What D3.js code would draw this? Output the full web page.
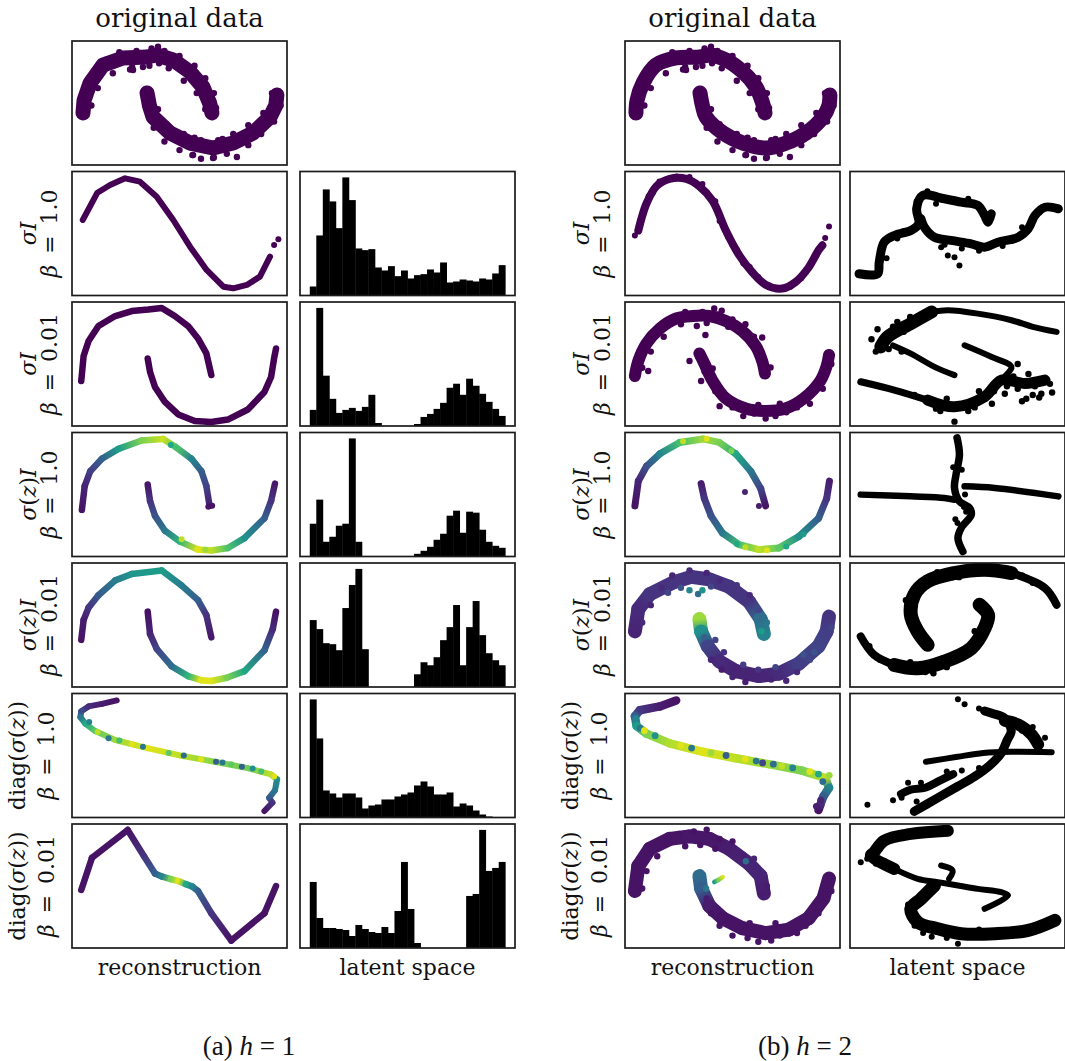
<!DOCTYPE html>
<meta charset="utf-8">
<script src="https://d3js.org/d3.v7.min.js"></script>
<style>body{margin:0;background:#fff}</style>
<svg id="fig" width="1065" height="1061"></svg>
<script>

// ---------------- data (panel units: x 0..100 left->right, y 0..100 bottom->top) ----------------

// two moons, original data (same set in both halves)
const origUpper = [[5.1,41.9],[5.6,52],[8.4,66.1],[14.4,80.6],[23.7,86.3],[34.9,87.1],[39.5,88.7],[47,84.7],[54.9,75],[60.9,62.9],[64,50],[65.1,42]];
const origLower = [[34.9,58.1],[36,48],[37.7,38.7],[45.6,25.8],[54.9,17.7],[65.6,13.7],[74.9,17.7],[84.2,25.8],[92.1,38.7],[94.8,48],[95.3,56.5]];
const origDots = [[7,58],[10,72],[16,85],[22,91],[30,92],[37,94],[40,95.5],[43,92],[50,88],[57,80],[62,70],[66,58],[67,46],
  [9,48],[12,62],[19,74],[28,79],[36,80],[45,78],[52,68],[58,58],[62,45],[27,77],[33,79],[40.5,82],[16.3,84.7],[28.4,76.6],
  [38,30],[43,19],[50,12],[56,8],[60,5],[66,6],[72,9],[76.7,6.5],[82,16],[88,25],[94,35],[97,48],
  [40,45],[44,33],[52,25],[60,20],[68,20],[75,25],[82,32],[89,42],[93,58],[48,26],[57,22],[70,21],[48.8,20.2],[65.6,5.6],[56.3,8.1]];

// (a) h = 1, reconstructions
const recA1 = [[5.0,60.9],[11.8,82.9],[17.7,89.1],[24.7,94.5],[31.6,91.8],[39.4,79.7],[47.1,60.9],[54.9,39.4],[62.6,20.6],[70.4,7.1],[75.0,5.8],[81.3,8.5],[87.4,15.2],[92.1,31.3]];
const recA1Dots = [[94.0,40.7],[96.0,45.3]];
const recA2Upper = [[4.3,36.3],[5.4,56.5],[7.7,68.5],[12.3,80.6],[20.1,88.7],[27.8,92.7],[35.5,93.9],[41.7,95.2],[47.8,88.7],[54,80.6],[58.6,70.6],[62.5,58.5],[64.8,41.1]];
const recA2Lower = [[35.2,54.4],[36.3,43.5],[38.6,31.5],[43.2,19.4],[49.4,9.3],[57.1,4.0],[64.8,3.2],[72.5,5.2],[81.8,13.3],[89.5,27.4],[92.6,39.5],[94.1,55.6],[94.9,62.5]];
const recA3Upper = [[4.6,37.6,0.05],[5.9,56.8,0.1],[8.5,68.8,0.18],[13.9,78.8,0.3],[21.6,86.8,0.55],[32.4,93.6,0.8],[42.4,94.8,0.92],[47.8,88.8,0.75],[55.6,78.8,0.45],[60.2,68.8,0.3],[62.5,56.8,0.2],[64.0,40.8,0.08]];
const recA3Lower = [[35.2,58,0.06],[36.3,44.8,0.15],[38.6,32.8,0.25],[43.2,20.8,0.4],[50.2,12,0.65],[58.6,5.6,0.95],[64.8,4.8,0.9],[72.5,6.8,0.72],[80.2,14.8,0.5],[89.5,30.8,0.3],[92.6,44.8,0.15],[94.4,58.8,0.06]];
const recA3Dots = [[63.4,40.2,0.05],[65.2,41,0.05],[46,90,0.6],[48.5,88,0.7],[51,14,0.9],[62,5.5,0.85]];
const recA4Upper = [[4.3,38,0.05],[5.4,54,0.08],[7.7,64,0.15],[12.3,74,0.28],[20.1,86,0.42],[27.8,91.2,0.52],[41.7,94,0.55],[50.9,82,0.42],[58.6,70,0.3],[62.5,58,0.15],[64.8,40,0.06]];
const recA4Lower = [[35.2,60.8,0.04],[36.3,42.8,0.1],[39.4,30.8,0.2],[46.3,16.8,0.35],[54,8.8,0.65],[60,5.5,0.95],[64.8,4.8,0.95],[72,7.5,0.8],[80.2,12.8,0.6],[89.5,29.6,0.32],[93.4,46.8,0.12],[94.9,60.8,0.04]];
const recA5 = [[20.8,94.4,0.05],[13.9,91.6,0.08],[7.7,89.6,0.12],[4.3,85.7,0.22],[3.9,80.9,0.38],[6.2,75.7,0.6],[10.8,69.7,0.75],[20.1,62.5,0.85],[35.5,55.8,0.95],[50.9,49.8,0.9],[66.4,45,0.82],[81.8,39.8,0.78],[92.6,34.7,0.9],[95.4,30.7,0.5],[94.4,21.9,0.4],[91.7,15.9,0.3],[93.2,12,0.15],[89.5,5.2,0.05]];
const recA5Dots = [[8,77,0.45],[12,69,0.9],[17,64,0.4],[22,62,0.7],[28,59,0.95],[33,57,0.4],[45,52,0.75],[52,50,0.35],[60,47,0.95],[67,45,0.3],[70,44.3,0.4],[74,43,0.75],[79,41,0.3],[84,39.5,0.5],[88,37,0.7],[94,33,0.95],[95,27,0.45]];
const recA6 = [[4.3,46.8,0.05],[9.3,72.8,0.05],[25.9,95.2,0.05],[33.5,74,0.15],[38.6,60,0.3],[42,57.5,0.45],[46,55.5,0.8],[49.5,54,0.95],[53,51.5,0.6],[56,49.5,0.45],[58.6,46,0.3],[64.8,28,0.15],[74.1,6,0.05],[89.5,28,0.05],[94.9,50,0.05]];

// (a) h = 1, latent histograms (30 bins, counts)
const histSigmaI_b1   = [27,180,318,282,202,354,286,141,136,139,84,75,88,58,75,51,61,64,78,69,99,39,42,48,45,42,51,48,66,91];
const histSigmaI_b001 = [48,352,150,81,39,48,54,45,57,93,9,0,0,0,0,0,6,27,36,51,69,114,126,93,141,120,96,72,51,30];
const histSigmaZ_b1   = [98,170,44,59,92,98,353,44,0,0,0,0,0,0,0,0,8,17,29,50,68,122,137,71,134,131,80,44,32,26];
const histSigmaZ_b001 = [200,173,131,128,110,236,305,353,113,0,0,0,0,0,0,0,38,74,65,89,140,179,245,65,179,257,155,101,80,65];
const histDiag_b1     = [354,237,81,72,60,72,72,60,27,36,39,54,54,63,69,75,96,108,93,69,69,75,33,42,36,21,9,3,0,0];
const histDiag_b001   = [198,90,60,60,57,54,36,69,57,48,45,63,45,111,258,117,15,0,0,0,0,0,0,0,156,162,354,231,240,258];

// (b) h = 2, reconstructions
const recB1 = [[6.2,52.4],[7.7,62.3],[10,74.2],[14.6,88.1],[20.8,94],[28.5,94],[34.6,88.1],[40.8,76.2],[46.9,52.4],[53.1,32.5],[59.2,18.7],[65.4,8.7],[73.1,5.6],[79.2,10.7],[85.4,22.6],[90,36.5],[91.8,40.5]];
const recB1Dots = [[4.6,48.4],[6,53],[7.5,60],[8.5,66],[9,70],[11,80],[13,83],[16,92],[24,96],[30,95.5],[36,90],[38,83],[42,76],[44,60],[48,47],[50,41],[52,37],[55,26],[58,23],[62,15],[67,8],[77,7],[82,14],[84,19],[87,27],[89,32],[93.1,46.4],[94.9,55.6]];
const recB2Upper = [[4.6,40.3],[6.2,52.4],[10,66.5],[16.2,78.6],[23.8,86.7],[31.5,88.7],[39.2,88.7],[46.9,84.7],[54.6,76.6],[60.8,64.5],[63.8,52.4],[65.1,42.3]];
const recB2Lower = [[34.6,58.5],[36.9,50.4],[40.8,36.3],[46.9,22.2],[56.2,14.1],[65.4,12.1],[74.6,14.1],[83.1,22.2],[90.8,36.3],[93.8,48.4],[94.9,57.3]];
const recB2Dots = [[41.5,94.8],[30,52.4],[35.4,36.3],[40.8,46.4],[63.8,71.4],[67.7,47.2],[10.8,44.4],[65.4,6],[33.4,80.6],[37.4,73.4],[43.1,90],[8,47],[12,60],[18,72],[26,82],[28,92],[36,92],[45,93],[50,86],[56,82],[60,72],[48,80],[38,83],[55,8],[60,10],[70,8],[75,11],[80,15],[86,18],[85,25],[72,18],[62,17],[50,15],[44,16],[42,28],[92,30],[96,50],[37,44],[34,56]];
const recB3Upper = [[4.6,40.8,0.05],[6.2,60.8,0.1],[10,72.8,0.25],[16.2,82.8,0.45],[25.4,92,0.7],[36.2,94.8,0.85],[43.8,92,0.8],[51.5,82.8,0.6],[58.5,68.8,0.4],[63.1,54.8,0.2],[65.4,40.8,0.05]];
const recB3Lower = [[35.4,58.8,0.08],[36.9,46.8,0.15],[40,32.8,0.25],[45.4,18.8,0.4],[53.1,9.6,0.7],[62.3,5.6,0.9],[71.5,6.8,0.75],[80.8,16,0.5],[90,30.8,0.3],[93.8,46.8,0.15],[95.1,60.8,0.08]];
const recB3Dots = [[55.8,52,0.1],[62.3,40.8,0.08],[49.5,85,0.8],[27,93,0.9],[38,95,0.95],[52,10,0.6],[56,7.5,0.9],[66,5,0.95],[75,8,0.6],[83,18,0.55]];
const recB4Upper = [[4.6,44.8,0.1],[6.2,62.8,0.12],[11.5,74.8,0.15],[23.1,84.8,0.15],[30.8,88.8,0.15],[39.2,86.8,0.15],[48.5,80.8,0.15],[57.7,68.8,0.15],[63.1,54.8,0.35],[64.6,42.8,0.45]];
const recB4Lower = [[34.6,54.8,0.85],[35.4,44.8,0.5],[38.5,32.8,0.2],[43.8,20.8,0.12],[51.5,12.8,0.1],[62.3,8.8,0.1],[71.5,10.8,0.12],[80.8,18.8,0.18],[90,32.8,0.2],[93.8,44.8,0.18],[94.9,56.8,0.15]];
const recB4Dots = [[8,52,0.12],[12,66,0.1],[17,80,0.12],[22,90,0.1],[30,94,0.12],[38,92,0.1],[44,86,0.12],[52,82,0.15],[58,74,0.12],[62,62,0.2],[66,52,0.4],[63.5,45,0.55],[30,78,0.45],[34,75,0.35],[36,78,0.5],[40,81,0.2],[20,76,0.2],[26,80,0.25],[40,22,0.1],[45,14,0.08],[50,8,0.1],[56,4,0.08],[62,14,0.15],[68,6,0.1],[75,5,0.1],[80,12,0.12],[86,22,0.2],[88,28,0.25],[96,48,0.2],[46,28,0.15],[55,18,0.18],[70,16,0.2],[83,26,0.25],[42,38,0.2],[37,40,0.3]];
const recB5 = [[23.8,94.4,0.05],[16.2,89.6,0.08],[6.9,86.5,0.15],[4.6,81.7,0.3],[5.4,73.7,0.55],[10,67.7,0.8],[20.8,59.8,0.88],[36.2,53,0.95],[51.5,47.8,0.9],[66.9,43,0.85],[82.3,37.8,0.8],[93.1,31.9,0.9],[94.9,23.9,0.45],[92.3,17.1,0.3],[90.8,10,0.12],[90,6,0.05]];
const recB5Dots = [[5,80,0.45],[7,72,0.4],[9,70,0.95],[14,66,0.5],[26,58,0.95],[31,56,0.4],[40,52,0.85],[47,50,0.3],[56,47,0.95],[61,45.5,0.4],[64,44,0.2],[69,43,0.35],[73,41.5,0.9],[78,40,0.45],[86,37,0.95],[90,35,0.6],[92,29,0.35],[91,14,0.1],[89,9,0.08],[95,34,0.85]];
const recB6Upper = [[4.6,46,0.05],[6.2,66,0.05],[11.5,80,0.05],[20.8,88,0.05],[30,90,0.06],[39.2,88,0.06],[48.5,80,0.08],[57.7,68,0.1],[63.1,58,0.1],[64.6,44,0.08]];
const recB6Lower = [[34.6,58,0.35],[35.4,48,0.3],[39.2,34,0.08],[45.4,24,0.05],[54.6,16,0.05],[65.4,12,0.05],[76.2,14.8,0.05],[85.4,24,0.05],[92.3,40,0.05],[94.9,56,0.05]];
const recB6Tail = [[41.5,53.2,0.55],[43.5,55,0.8],[45.4,57.2,0.95]];
const recB6Dots = [[56.2,70,0.35],[37.7,48,0.4],[8,48,0.05],[10,62,0.05],[15,74,0.05],[18,84,0.05],[25,92,0.05],[32,94,0.05],[38,95.5,0.05],[44,88,0.05],[50,86,0.05],[55,75,0.08],[60,72,0.1],[62,64,0.1],[66,50,0.08],[28,82,0.05],[35,83,0.05],[42,80,0.05],[40,28,0.05],[44,18,0.05],[50,10,0.05],[57,8,0.05],[62,5,0.05],[68,6,0.05],[72,10,0.05],[80,12,0.05],[84,18,0.05],[90,28,0.05],[96,46,0.05],[48,22,0.05],[58,20,0.05],[70,20,0.05],[80,20,0.05],[38,40,0.08]];

// (b) h = 2, latent space
const latB1a = [[4.2,17.5],[12.8,17.5],[13.6,26.9],[15.9,43],[20.6,48.4],[28.3,52.4],[32,58],[31,70],[33.8,80.6],[43.9,78],[51.7,75.3],[59.5,72.6],[62.6,64.5],[64.2,59.1],[65.7,65.9]];
const latB1b = [[33,62],[34.6,55.1],[39.3,47],[47,44.4],[56.4,41.7],[62.6,39],[68.8,43],[78.2,47],[82.9,53.8],[86,64.5],[90.7,71.2],[96.9,69.9]];
const latB1Dots = [[50.9,24.2],[45.5,32.3],[48.6,30.9],[42.4,39],[14,35],[17,30],[22,46],[25,52],[31,76],[36,84],[40,74],[55,78],[44,41],[52,38],[60,36],[71,40],[75,44],[80,55],[88,67]];
const latB2a = [[96.1,75.9],[85,80],[75.1,85.3],[59.5,90.6],[45.5,93.3],[38,92]];
const latB2blob1 = [[38,92],[28.3,82.6],[17.4,71.8],[14.3,63.8]];
const latB2b = [[20,65],[28.3,58.4],[39.3,47.7],[48.6,41]];
const latB2c = [[5,35.7],[20.6,29],[36.1,20.9]];
const latB2blob2 = [[36.1,20.9],[48.6,15.5],[62.6,23.6],[70.4,37],[81.3,34.3],[90.7,37]];
const latB2d = [[53.3,65.1],[65.7,55.8],[75.1,47.7],[72,40]];
const latB2Dots = [[12.8,78],[28,88],[12,60],[24,60],[85,25],[88,23],[82,22],[48.6,3.5],[89,26],[78,30],[67,28],[58,15],[42,12],[30,25],[20,80],[25,76],[15,67],[78,50],[83,42],[73,32],
  [10,70],[22,84],[33,88],[18,62],[40,14],[45,22],[55,12],[60,28],[66,18],[72,26],[76,40],[86,32],[93,34],[94,27],[80,20]];
const latB3h1 = [[5,49.9],[28.3,48.5],[43.9,47.2],[48.6,45.8]];
const latB3h2 = [[53.3,56.6],[67.3,55.3],[96.9,48.5]];
const latB3v = [[49.8,95.7],[50.9,82.2],[49.3,66],[48.6,55.3],[50.9,44.5],[55.6,39.1],[56.4,33.7],[51.7,22.9],[50.2,14.8],[52.5,4]];
const latB3Dots = [[48,72],[52,70],[53,40],[54,36],[49,30],[50,27],[53.5,50]];
const latB4upperTip = [[96.1,66.3],[90.7,79.8],[75.1,91.9]];
const latB4upper = [[75.1,91.9],[62.6,94.6],[48.6,91.9],[36.1,85.2],[29.9,74.4],[28.3,58.2],[31.5,44.7],[36.1,34]];
const latB4lowerTip = [[5,40.7],[11.2,25.9],[20.6,17.8]];
const latB4lower = [[20.6,17.8],[31.5,15.1],[43.9,20.5],[56.4,31.3],[62.6,47.4],[64.2,58.2],[60.3,66.3]];
const latB4Dots = [[40.6,92.5],[47.6,88.6],[50.7,88.6],[34,80],[27,65],[26,70],[30,50],[28,20],[35,12],[38.8,11],[45,16],[50,22],[55,27],[60,38],[58,45],[65,50],[85,84],[80,90],[9,33],[14,22]];
const latB5a = [[35.3,44.9],[50,49],[62,52],[75,53],[93.8,52.7]];
const latB5b = [[29.9,4.9],[40,15],[50,25],[58,33],[65,42],[70.4,52],[73,62],[75,70],[72,80],[66,84],[62.6,85.9]];
const latB5c = [[72,78],[78.2,75.1],[84.4,67],[87.5,58.9]];
const latB5d = [[23.7,18.9],[28.3,22.4],[35,24],[42,30],[48,35]];
const latB5Dots = [[8.1,10.3],[50.2,95.4],[53.3,91.4],[60,88],[63,86],[90.7,64.3],[24,16],[31,13],[36,10],[45,37],[52,38],[55,30],[60,40],[68,47],[80,70],[85,73],[20,14],[27,28],[33,28]];
const latB6top = [[45.5,94.6],[28.3,92],[15.9,86.6],[11.2,77.2],[9.7,74.5],[20.6,63.8]];
const latB6band = [[20.6,63.8],[31.5,55.8],[40.8,53.1],[50.2,50.4],[59.5,47.7],[70.4,45],[73.5,42.4],[62.6,31.6]];
const latB6hook = [[42.4,66.5],[47.7,62.5],[46.1,55.8]];
const latB6lower = [[39.3,50.4],[33,39.7],[28.3,31.6],[31.5,20.9],[40.8,15.5],[51.7,11.5],[67.3,11.5],[82.9,14.2],[95.3,22.3]];
const latB6Dots = [[5,69.2],[8,72],[12,68],[16,70],[14,80],[20,88],[13,84],[50.2,3.5],[30,18],[34,12],[38,9],[45,8],[55,9],[60,15],[29,26],[27,35]];

// text
const rowLine1 = ["σI", "σI", "σ(z)I", "σ(z)I", "diag(σ(z))", "diag(σ(z))"];
const rowLine2 = ["β = 1.0", "β = 0.01", "β = 1.0", "β = 0.01", "β = 1.0", "β = 0.01"];
const captions = [["(a) ", "h", " = 1"], ["(b) ", "h", " = 2"]];

// ---------------- layout ----------------
const svg = d3.select("#fig");
const W = 215, H = 124;
const colX = {aRec: 72, aLat: 300, bRec: 625, bLat: 850};
const rowY = [41, 171.5, 302, 432.5, 563, 693.5, 824];
const purple = d3.interpolateViridis(0);
const serif = "DejaVu Serif";

const xs = d3.scaleLinear().domain([0, 100]).range([0, W]);
const ys = d3.scaleLinear().domain([0, 100]).range([H, 0]);

let uid = 0;
function panel(x0, y0) {
  const id = "clip" + (uid++);
  const g = svg.append("g").attr("transform", `translate(${x0},${y0})`);
  g.append("clipPath").attr("id", id).append("rect").attr("width", W).attr("height", H);
  const inner = g.append("g").attr("clip-path", `url(#${id})`);
  return {g, inner};
}
function frame(g) {
  g.append("rect").attr("width", W).attr("height", H)
    .attr("fill", "none").attr("stroke", "#1b1b1b").attr("stroke-width", 1.7);
}

function drawPath(sel, pts, w, color, smooth) {
  if (pts[0].length > 2) {
    // colour varies along the curve: one gradient segment per pair of points
    const defs = sel.append("defs");
    for (let i = 0; i < pts.length - 1; i++) {
      const a = pts[i], b = pts[i + 1], id = "gr" + (uid++);
      const lg = defs.append("linearGradient").attr("id", id).attr("gradientUnits", "userSpaceOnUse")
        .attr("x1", xs(a[0])).attr("y1", ys(a[1])).attr("x2", xs(b[0])).attr("y2", ys(b[1]));
      lg.append("stop").attr("offset", 0).attr("stop-color", d3.interpolateViridis(a[2]));
      lg.append("stop").attr("offset", 1).attr("stop-color", d3.interpolateViridis(b[2]));
      sel.append("line")
        .attr("x1", xs(a[0])).attr("y1", ys(a[1])).attr("x2", xs(b[0])).attr("y2", ys(b[1]))
        .attr("stroke", `url(#${id})`).attr("stroke-width", w).attr("stroke-linecap", "round");
    }
  } else {
    const line = d3.line().x(d => xs(d[0])).y(d => ys(d[1]))
      .curve(smooth ? d3.curveCatmullRom : d3.curveLinear);
    sel.append("path").datum(pts).attr("d", line)
      .attr("fill", "none").attr("stroke", color).attr("stroke-width", w)
      .attr("stroke-linecap", "round").attr("stroke-linejoin", "round");
  }
}
function drawDots(sel, pts, color, r) {
  sel.selectAll(null).data(pts).join("circle")
    .attr("cx", d => xs(d[0])).attr("cy", d => ys(d[1])).attr("r", r)
    .attr("fill", d => d.length > 2 ? d3.interpolateViridis(d[2]) : color);
}

function scatterPanel(x0, y0, spec, color, smooth) {
  const {g, inner} = panel(x0, y0);
  spec.paths.forEach(([pts, w]) => drawPath(inner, pts, w, color, smooth));
  if (spec.dots) drawDots(inner, spec.dots, color, spec.r || 2.8);
  frame(g);
}

function histPanel(x0, y0, counts) {
  const {g, inner} = panel(x0, y0);
  const hx = d3.scaleLinear().domain([-1.5, counts.length + 1.5]).range([0, W]);
  const hy = d3.scaleLinear().domain([0, d3.max(counts) * 1.05]).range([H, 0]);
  inner.selectAll("rect").data(counts).join("rect")
    .attr("x", (d, i) => hx(i)).attr("width", (d, i) => hx(i + 1) - hx(i) + 0.4)
    .attr("y", d => hy(d)).attr("height", d => H - hy(d))
    .attr("fill", "#000");
  frame(g);
}

// ---------------- panels ----------------
const original = {paths: [[origUpper, 15], [origLower, 15]], dots: origDots, r: 3.2};

const recA = [
  original,
  {paths: [[recA1, 6]], dots: recA1Dots, r: 3},
  {paths: [[recA2Upper, 6.5], [recA2Lower, 6.5]]},
  {paths: [[recA3Upper, 6.5], [recA3Lower, 6.5]], dots: recA3Dots, r: 3},
  {paths: [[recA4Upper, 6.5], [recA4Lower, 6.5]]},
  {paths: [[recA5, 6]], dots: recA5Dots, r: 3},
  {paths: [[recA6, 6.5]]}
];
const histA = [histSigmaI_b1, histSigmaI_b001, histSigmaZ_b1, histSigmaZ_b001, histDiag_b1, histDiag_b001];

const recB = [
  original,
  {paths: [[recB1, 8]], dots: recB1Dots, r: 3},
  {paths: [[recB2Upper, 12], [recB2Lower, 12]], dots: recB2Dots, r: 3.2},
  {paths: [[recB3Upper, 7], [recB3Lower, 7]], dots: recB3Dots, r: 3},
  {paths: [[recB4Upper, 14], [recB4Lower, 14]], dots: recB4Dots, r: 3.2},
  {paths: [[recB5, 8.5]], dots: recB5Dots, r: 3.4},
  {paths: [[recB6Upper, 14], [recB6Lower, 14], [recB6Tail, 4.5]], dots: recB6Dots, r: 3.2}
];
const latB = [
  {paths: [[latB1a, 9], [latB1b, 9]], dots: latB1Dots, r: 3},
  {paths: [[latB2a, 6], [latB2blob1, 13], [latB2b, 6], [latB2c, 7], [latB2blob2, 11], [latB2d, 6]], dots: latB2Dots, r: 3.2},
  {paths: [[latB3h1, 6.5], [latB3h2, 6.5], [latB3v, 7.5]], dots: latB3Dots, r: 3},
  {paths: [[latB4upperTip, 8], [latB4upper, 14], [latB4lowerTip, 8], [latB4lower, 14]], dots: latB4Dots, r: 3.2},
  {paths: [[latB5a, 6], [latB5b, 9], [latB5c, 12], [latB5d, 8]], dots: latB5Dots, r: 3},
  {paths: [[latB6top, 12], [latB6band, 6], [latB6hook, 6], [latB6lower, 13]], dots: latB6Dots, r: 3}
];

recA.forEach((s, i) => scatterPanel(colX.aRec, rowY[i], s, purple, false));
histA.forEach((h, i) => histPanel(colX.aLat, rowY[i + 1], h));
recB.forEach((s, i) => scatterPanel(colX.bRec, rowY[i], s, purple, true));
latB.forEach((s, i) => scatterPanel(colX.bLat, rowY[i + 1], s, "#000", true));

// ---------------- text ----------------
function mathText(sel, str) {
  // italic for math variables, upright for the rest; wide spaces round "="
  const italic = new Set(["σ", "β", "I", "z", "h"]);
  str = str.replace(" = ", "\u2002=\u2002");
  let run = "", runIt = null;
  const flush = () => { if (run) sel.append("tspan").attr("font-style", runIt ? "italic" : "normal").text(run); run = ""; };
  for (const ch of str) {
    const it = italic.has(ch);
    if (runIt !== null && it !== runIt) flush();
    runIt = it; run += ch;
  }
  flush();
}

[colX.aRec, colX.bRec].forEach(x => {
  svg.append("text").attr("x", x + W / 2).attr("y", 27).attr("text-anchor", "middle")
    .attr("font-family", serif).attr("font-size", 26).attr("fill", "#111").text("original data");
  svg.append("text").attr("x", x + W / 2).attr("y", 975).attr("text-anchor", "middle")
    .attr("font-family", serif).attr("font-size", 22).attr("fill", "#111").text("reconstruction");
});
[colX.aLat, colX.bLat].forEach(x => {
  svg.append("text").attr("x", x + W / 2).attr("y", 975).attr("text-anchor", "middle")
    .attr("font-family", serif).attr("font-size", 22).attr("fill", "#111").text("latent space");
});

// row labels, rotated, two lines, left of each reconstruction column
[colX.aRec, colX.bRec].forEach(x => {
  rowLine1.forEach((l1, i) => {
    const cy = rowY[i + 1] + H / 2;
    const diag = l1.startsWith("diag");
    const b2 = x - (diag ? 18 : 15), b1 = b2 - (diag ? 29 : 21);
    [[b1, l1], [b2, rowLine2[i]]].forEach(([bx, str]) => {
      const t = svg.append("text").attr("transform", `translate(${bx},${cy}) rotate(-90)`)
        .attr("text-anchor", "middle").attr("font-family", serif).attr("font-size", 22)
        .style("white-space", "pre").attr("fill", "#111");
      mathText(t, str);
    });
  });
});

// captions
[[249, captions[0]], [805, captions[1]]].forEach(([cx, parts]) => {
  const t = svg.append("text").attr("x", cx).attr("y", 1055).attr("text-anchor", "middle")
    .attr("font-family", "Liberation Serif").attr("font-size", 27).attr("fill", "#111");
  t.append("tspan").text(parts[0]);
  t.append("tspan").attr("font-style", "italic").text(parts[1]);
  t.append("tspan").text(parts[2]);
});

</script>
